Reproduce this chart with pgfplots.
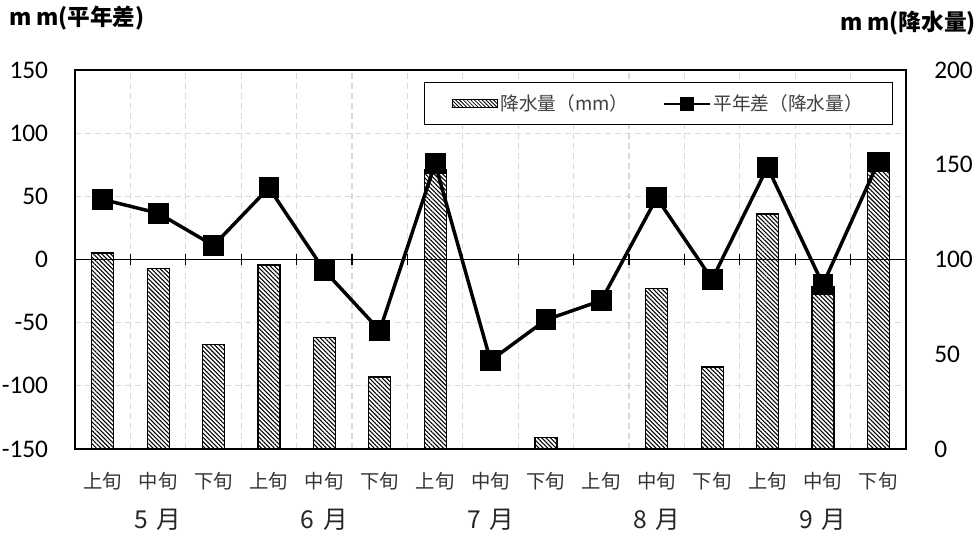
\documentclass[border=0pt]{standalone}
\usepackage{fontspec}
\setmainfont{Carlito}
\newfontfamily\jp{Noto Sans CJK JP}
\usepackage{pgfplots}
\pgfplotsset{compat=1.18}
\usetikzlibrary{patterns.meta}

\pgfplotstableread{
x rain diff
0 103.4 47.5
1 95.4 36.7
2 55.2 11.1
3 97.1 56.8
4 58.7 -8.7
5 38.0 -56.2
6 147.2 75.8
7 0 -80.0
8 6.0 -47.8
9 0 -32.5
10 84.6 48.8
11 43.3 -15.8
12 124.0 73.1
13 85.6 -19.8
14 156.4 77.1
}\data

\pgfplotsset{
  base/.style={scale only axis, width=623.25pt, height=284.25pt, at={(0,0)}, anchor=south west, xmin=-0.5, xmax=14.5},
  numfont/.style={font=\fontsize{19}{19}\selectfont},
  mylinelegend/.style={legend image code/.code={\draw[mark repeat=2,mark phase=2,##1, line width=1.8pt, mark size=4.5pt] plot coordinates {(0pt,0pt) (17pt,0pt) (34pt,0pt)};}},
}
\tikzset{mon/.style={font=\jp\fontsize{18.5}{18.5}\selectfont, text=black!85, inner sep=0pt}}

\begin{document}
\begin{tikzpicture}
\useasboundingbox (-56.25pt,-66.75pt) rectangle (678pt,336.75pt);
% background axis: grid, frame, labels
\begin{axis}[base, clip=false,
  ymin=-150, ymax=150,
  ytick={-150,-100,...,150}, yticklabels={-150,-100,-50,0,50,100,150},
  ytick pos=left,
  xtick={0,...,14},
  xticklabels={上旬,中旬,下旬,上旬,中旬,下旬,上旬,中旬,下旬,上旬,中旬,下旬,上旬,中旬,下旬},
  xtick pos=bottom,
  minor xtick={0.5,1.5,...,13.5},
  xminorgrids, ymajorgrids,
  grid style={dash pattern=on 4.5pt off 3pt, color=black!15, line width=0.8pt},
  minor grid style={dash pattern=on 4.5pt off 3pt, color=black!15, line width=0.8pt},
  major tick length=0pt, minor tick length=0pt,
  axis line style={black, line width=0.9pt},
  yticklabel style={numfont, anchor=east, inner sep=0pt, xshift=-20pt},
  xticklabel style={font=\jp\fontsize{14.5}{14.5}\selectfont, text=black!80, anchor=center, inner sep=0pt, yshift=-24pt},
]
\coordinate (m5) at (axis cs:1,-150);
\coordinate (m6) at (axis cs:4,-150);
\coordinate (m7) at (axis cs:7,-150);
\coordinate (m8) at (axis cs:10,-150);
\coordinate (m9) at (axis cs:13,-150);
\end{axis}
% bars on right axis
\begin{axis}[base, ybar, bar width=16.5pt,
  ymin=0, ymax=200,
  axis x line=none, axis y line*=right,
  ytick={0,50,...,200}, yticklabels={0,50,100,150,200},
  major tick length=0pt,
  axis line style={black, line width=0.9pt},
  yticklabel style={numfont, anchor=west, inner sep=0pt, xshift=21pt},
]
\addplot[draw=black, line width=0.9pt, fill=white,
  postaction={pattern={Lines[angle=135, distance=2.3pt, line width=0.8pt]}}]
  table[x=x, y=rain] {\data};
\end{axis}
% line on left axis
\begin{axis}[base,
  ymin=-150, ymax=150,
  axis x line*=middle, axis y line=none,
  xtick={0.5,1.5,...,13.5}, xticklabels={},
  tick align=center, major tick length=8.5pt,
  every tick/.style={black, line width=0.9pt},
  x axis line style={-, black, line width=0.9pt},
  legend columns=2,
  legend cell align=left,
  legend style={at={(rel axis cs:0.984,0.968)}, anchor=north east,
    draw=black, line width=0.9pt, inner xsep=20pt, inner ysep=7pt,
    font=\jp\fontsize{14}{14}\selectfont, text=black!75,
    nodes={inner xsep=2pt},
    /tikz/every even column/.append style={column sep=24pt}},
]
\addlegendimage{legend image code/.code={\draw[draw=black, line width=0.7pt, fill=white, postaction={pattern={Lines[angle=135, distance=2pt, line width=0.6pt]}}] (0pt,-3pt) rectangle (34pt,3pt);}}
\addlegendentry{降水量（mm）}
\addplot[black, line width=2.6pt, mark=square*, mark size=6.5pt, mylinelegend]
  table[x=x, y=diff] {\data};
\addlegendentry{平年差（降水量）}
\end{axis}
% month labels and titles (text only)
\node[mon] at ([yshift=-53.25pt]m5) {5\hspace{0.35em}月};
\node[mon] at ([yshift=-53.25pt]m6) {6\hspace{0.35em}月};
\node[mon] at ([yshift=-53.25pt]m7) {7\hspace{0.35em}月};
\node[mon] at ([yshift=-53.25pt]m8) {8\hspace{0.35em}月};
\node[mon] at ([yshift=-53.25pt]m9) {9\hspace{0.35em}月};
\node[anchor=west, inner sep=0pt, font=\jp\bfseries\fontsize{17}{17}\selectfont] at (-49.5pt,323pt) {m\hspace{0.2em}m(平年差)};
\node[anchor=east, inner sep=0pt, font=\jp\bfseries\fontsize{17}{17}\selectfont] at (676pt,319.5pt) {m\hspace{0.2em}m(降水量)};
\end{tikzpicture}
\end{document}
